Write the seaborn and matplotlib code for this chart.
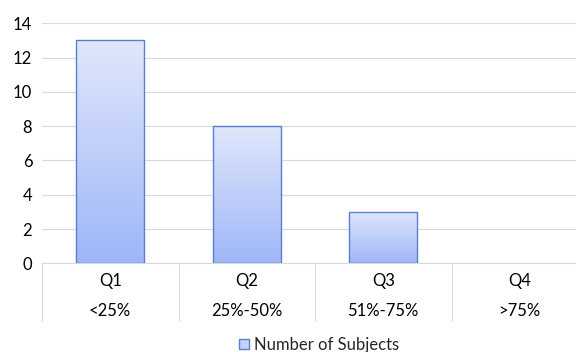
import numpy as np
import pandas as pd
import matplotlib
matplotlib.use("Agg")
import matplotlib.pyplot as plt
import seaborn as sns
from matplotlib.patches import Patch
from matplotlib.colors import LinearSegmentedColormap

quartiles = ["Q1", "Q2", "Q3", "Q4"]
ranges = ["<25%", "25%-50%", "51%-75%", ">75%"]
subjects = [13, 8, 3, 0]
series_name = "Number of Subjects"

sns.set_theme(style="white")
plt.rcParams['font.family'] = ['Lato', 'DejaVu Sans']

df = pd.DataFrame({"quartile": quartiles, "subjects": subjects})

fig = plt.figure(figsize=(5.76, 3.52), dpi=100)
ax = fig.add_axes([42/576, (352-263.3)/352, (588-42)/576, (263.3-23.3)/352])

sns.barplot(data=df, x="quartile", y="subjects", ax=ax, width=0.5,
            color="#b8c9f9", edgecolor="#5b7fcf", linewidth=1.0)

top_c = "#e0e7fc"
bot_c = "#9fb7f8"
cmap = LinearSegmentedColormap.from_list("g", [bot_c, top_c])
grad = np.linspace(0, 1, 256).reshape(-1, 1)
for p in ax.patches:
    x0, y0 = p.get_x(), p.get_y()
    w, h = p.get_width(), p.get_height()
    if h <= 0:
        p.set_visible(False)
        continue
    im = ax.imshow(grad, cmap=cmap, origin="lower", aspect="auto",
                   extent=[x0, x0 + w, y0, y0 + h], zorder=p.get_zorder() - 0.1)
    im.set_clip_path(p)
    p.set_facecolor("none")
    p.set_zorder(3)

ax.set_xlim(-0.5, 3.5)
ax.set_ylim(0, 14)
ax.set_yticks(np.arange(0, 15, 2))
ax.grid(axis="y", color="#d9d9d9", linewidth=0.8)
ax.set_axisbelow(True)
for s in ["top", "right", "left"]:
    ax.spines[s].set_visible(False)
ax.spines["bottom"].set_color("#d9d9d9")
ax.spines["bottom"].set_linewidth(0.8)
ax.set_xlabel("")
ax.set_ylabel("")

fs = 12
ax.tick_params(axis="y", length=0, pad=7, labelsize=fs, labelcolor="#000000")
ax.tick_params(axis="x", which="major", length=0, pad=7, labelsize=fs, labelcolor="#000000")
ax.set_xticks(range(len(quartiles)))
ax.set_xticklabels(quartiles)
ax.set_xticks(np.arange(-0.5, 4.0, 1.0), minor=True)
ax.tick_params(axis="x", which="minor", bottom=True, length=42, width=0.8,
               color="#d9d9d9", direction="out")

for i, r in enumerate(ranges):
    ax.annotate(r, xy=(i, 0), xycoords=("data", "axes fraction"),
                xytext=(0, -34.1), textcoords="offset points",
                ha="center", va="center", fontsize=fs, color="#000000")

handle = Patch(facecolor="#c3d2fa", edgecolor="#5b7fcf", linewidth=1.0)
fig.legend([handle], [series_name], loc="center", bbox_to_anchor=(319/576, 1 - 345/352),
           frameon=False, fontsize=fs, handlelength=0.6, handleheight=0.6,
           handletextpad=0.3, borderpad=0)

fig.savefig("out.png", dpi=100)
